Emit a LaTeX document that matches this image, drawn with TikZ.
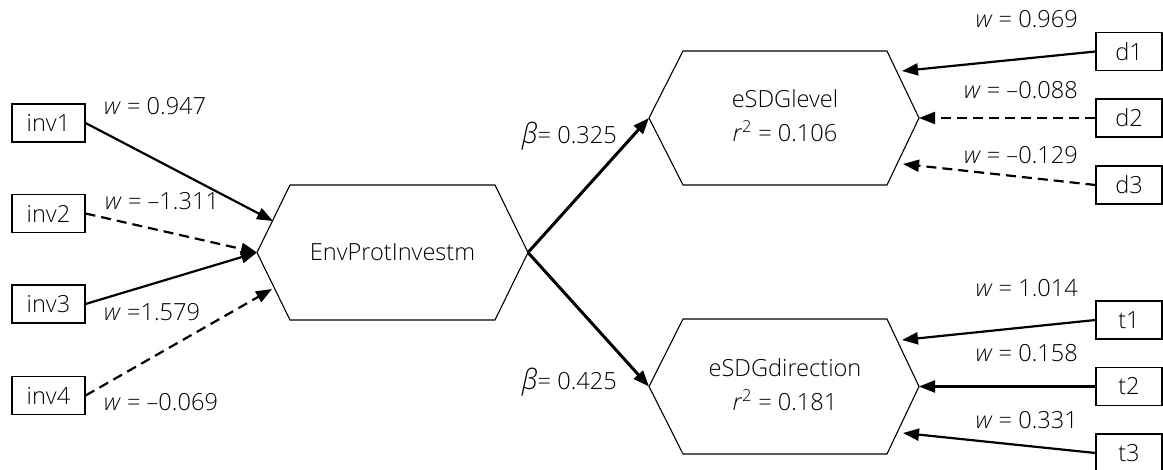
\documentclass[tikz,border=0pt]{standalone}
\usepackage{fontspec}
\IfFontExistsTF{Open Sans Light}{\setmainfont{Open Sans Light}[ItalicFont={Open Sans Light Italic}]}{\setmainfont{Open Sans}}
\usetikzlibrary{arrows.meta,calc}
\tikzset{
  box/.style={draw, line width=1.1pt, minimum height=38pt, inner sep=0pt},
  lbox/.style={box, minimum width=73pt},
  rbox/.style={box, minimum width=66pt},
  hexlabel/.style={inner sep=0pt, minimum width=205pt, minimum height=135pt, align=center},
  hexline/.style={line width=1.1pt},
  conn/.style={line width=2.2pt, -{Triangle[length=16pt,width=12pt]}},
  dconn/.style={conn, dash pattern=on 10pt off 6pt},
  bconn/.style={line width=3pt, -{Triangle[length=16pt,width=12pt]}},
  lab/.style={inner sep=0pt},
}
\newcommand{\wv}{\textit{w}}
\newcommand{\bv}{{\fontsize{28}{28}\selectfont\textit{β}}}
\begin{document}
\begin{tikzpicture}[x=1pt,y=-1pt,font=\fontsize{23.6}{28}\selectfont]
\useasboundingbox (0,0) rectangle (1163,470);
% left indicator boxes
\node[lbox] (inv1) at (48.5,123) {inv1};
\node[lbox] (inv2) at (48.5,213.5) {inv2};
\node[lbox] (inv3) at (48.5,304) {inv3};
\node[lbox] (inv4) at (48.5,395.5) {inv4};
% right indicator boxes
\node[rbox] (d1) at (1129,51.5) {d1};
\node[rbox] (d2) at (1129,118) {d2};
\node[rbox] (d3) at (1129,185) {d3};
\node[rbox] (t1) at (1129,320) {t1};
\node[rbox] (t2) at (1129,386.5) {t2};
\node[rbox] (t3) at (1129,453) {t3};
% hexagon constructs (text)
\node[hexlabel] (env) at (392.5,252.5) {EnvProtInvestm};
\node[hexlabel] (lev) at (785,116) {eSDGlevel\\[6pt]\textit{r}\textsuperscript{2} = 0.106};
\node[hexlabel] (dir) at (785,384.5) {eSDGdirection\\[6pt]\textit{r}\textsuperscript{2} = 0.181};
% hexagon outlines
\coordinate (envNW) at (290,185);  \coordinate (envNE) at (495,185);
\coordinate (envSW) at (290,320);  \coordinate (envSE) at (495,320);
\coordinate (envL) at (257,252.5); \coordinate (envR) at (528,252.5);
\coordinate (levNW) at (683,51);   \coordinate (levNE) at (887,51);
\coordinate (levSW) at (683,185);  \coordinate (levSE) at (887,185);
\coordinate (levL) at (649,118);   \coordinate (levR) at (919,118);
\coordinate (dirNW) at (683,319);  \coordinate (dirNE) at (887,319);
\coordinate (dirSW) at (683,454);  \coordinate (dirSE) at (887,454);
\coordinate (dirL) at (649,386.5); \coordinate (dirR) at (919,386.5);
\foreach \h in {env,lev,dir}{
  \draw[hexline] (\h NW) -- (\h NE) -- (\h R) -- (\h SE) -- (\h SW) -- (\h L) -- cycle;
}
% arrow end points on hexagon borders
\coordinate (envA) at (273,221);
\coordinate (envD) at (272,289);
\coordinate (levA) at (902,71);
\coordinate (levC) at (903,164);
\coordinate (dirA) at (902,340);
\coordinate (dirC) at (903,433);
% left connectors
\draw[conn] (inv1.east) -- (envA);
\draw[dconn] (inv2.east) -- (envL);
\draw[conn] (inv3.east) -- (envL);
\draw[dconn] (inv4.east) -- (envD);
% structural paths
\draw[bconn] (envR) -- (levL);
\draw[bconn] (envR) -- (dirL);
% right connectors
\draw[conn] (d1.west) -- (levA);
\draw[dconn] (d2.west) -- (levR);
\draw[dconn] (d3.west) -- (levC);
\draw[conn] (t1.west) -- (dirA);
\draw[conn] (t2.west) -- (dirR);
\draw[conn] (t3.west) -- (dirC);
% labels
\node[lab, anchor=west] (l1) at (104,106) {\wv{} = 0.947};
\node[lab, anchor=west] (l2) at (105,201) {\wv{} = –1.311};
\node[lab, anchor=west] (l3) at (104,312) {\wv{} =1.579};
\node[lab, anchor=west] (l4) at (104,402) {\wv{} = –0.069};
\node[lab, anchor=east] (b1) at (617,136) {\bv{}= 0.325};
\node[lab, anchor=east] (b2) at (617,382) {\bv{}= 0.425};
\node[lab, anchor=east] (r1) at (1078,19) {\wv{} = 0.969};
\node[lab, anchor=east] (r2) at (1078,90) {\wv{} = –0.088};
\node[lab, anchor=east] (r3) at (1078,155) {\wv{} = –0.129};
\node[lab, anchor=east] (r4) at (1078,288) {\wv{} = 1.014};
\node[lab, anchor=east] (r5) at (1078,353) {\wv{} = 0.158};
\node[lab, anchor=east] (r6) at (1078,420) {\wv{} = 0.331};
\end{tikzpicture}
\end{document}
